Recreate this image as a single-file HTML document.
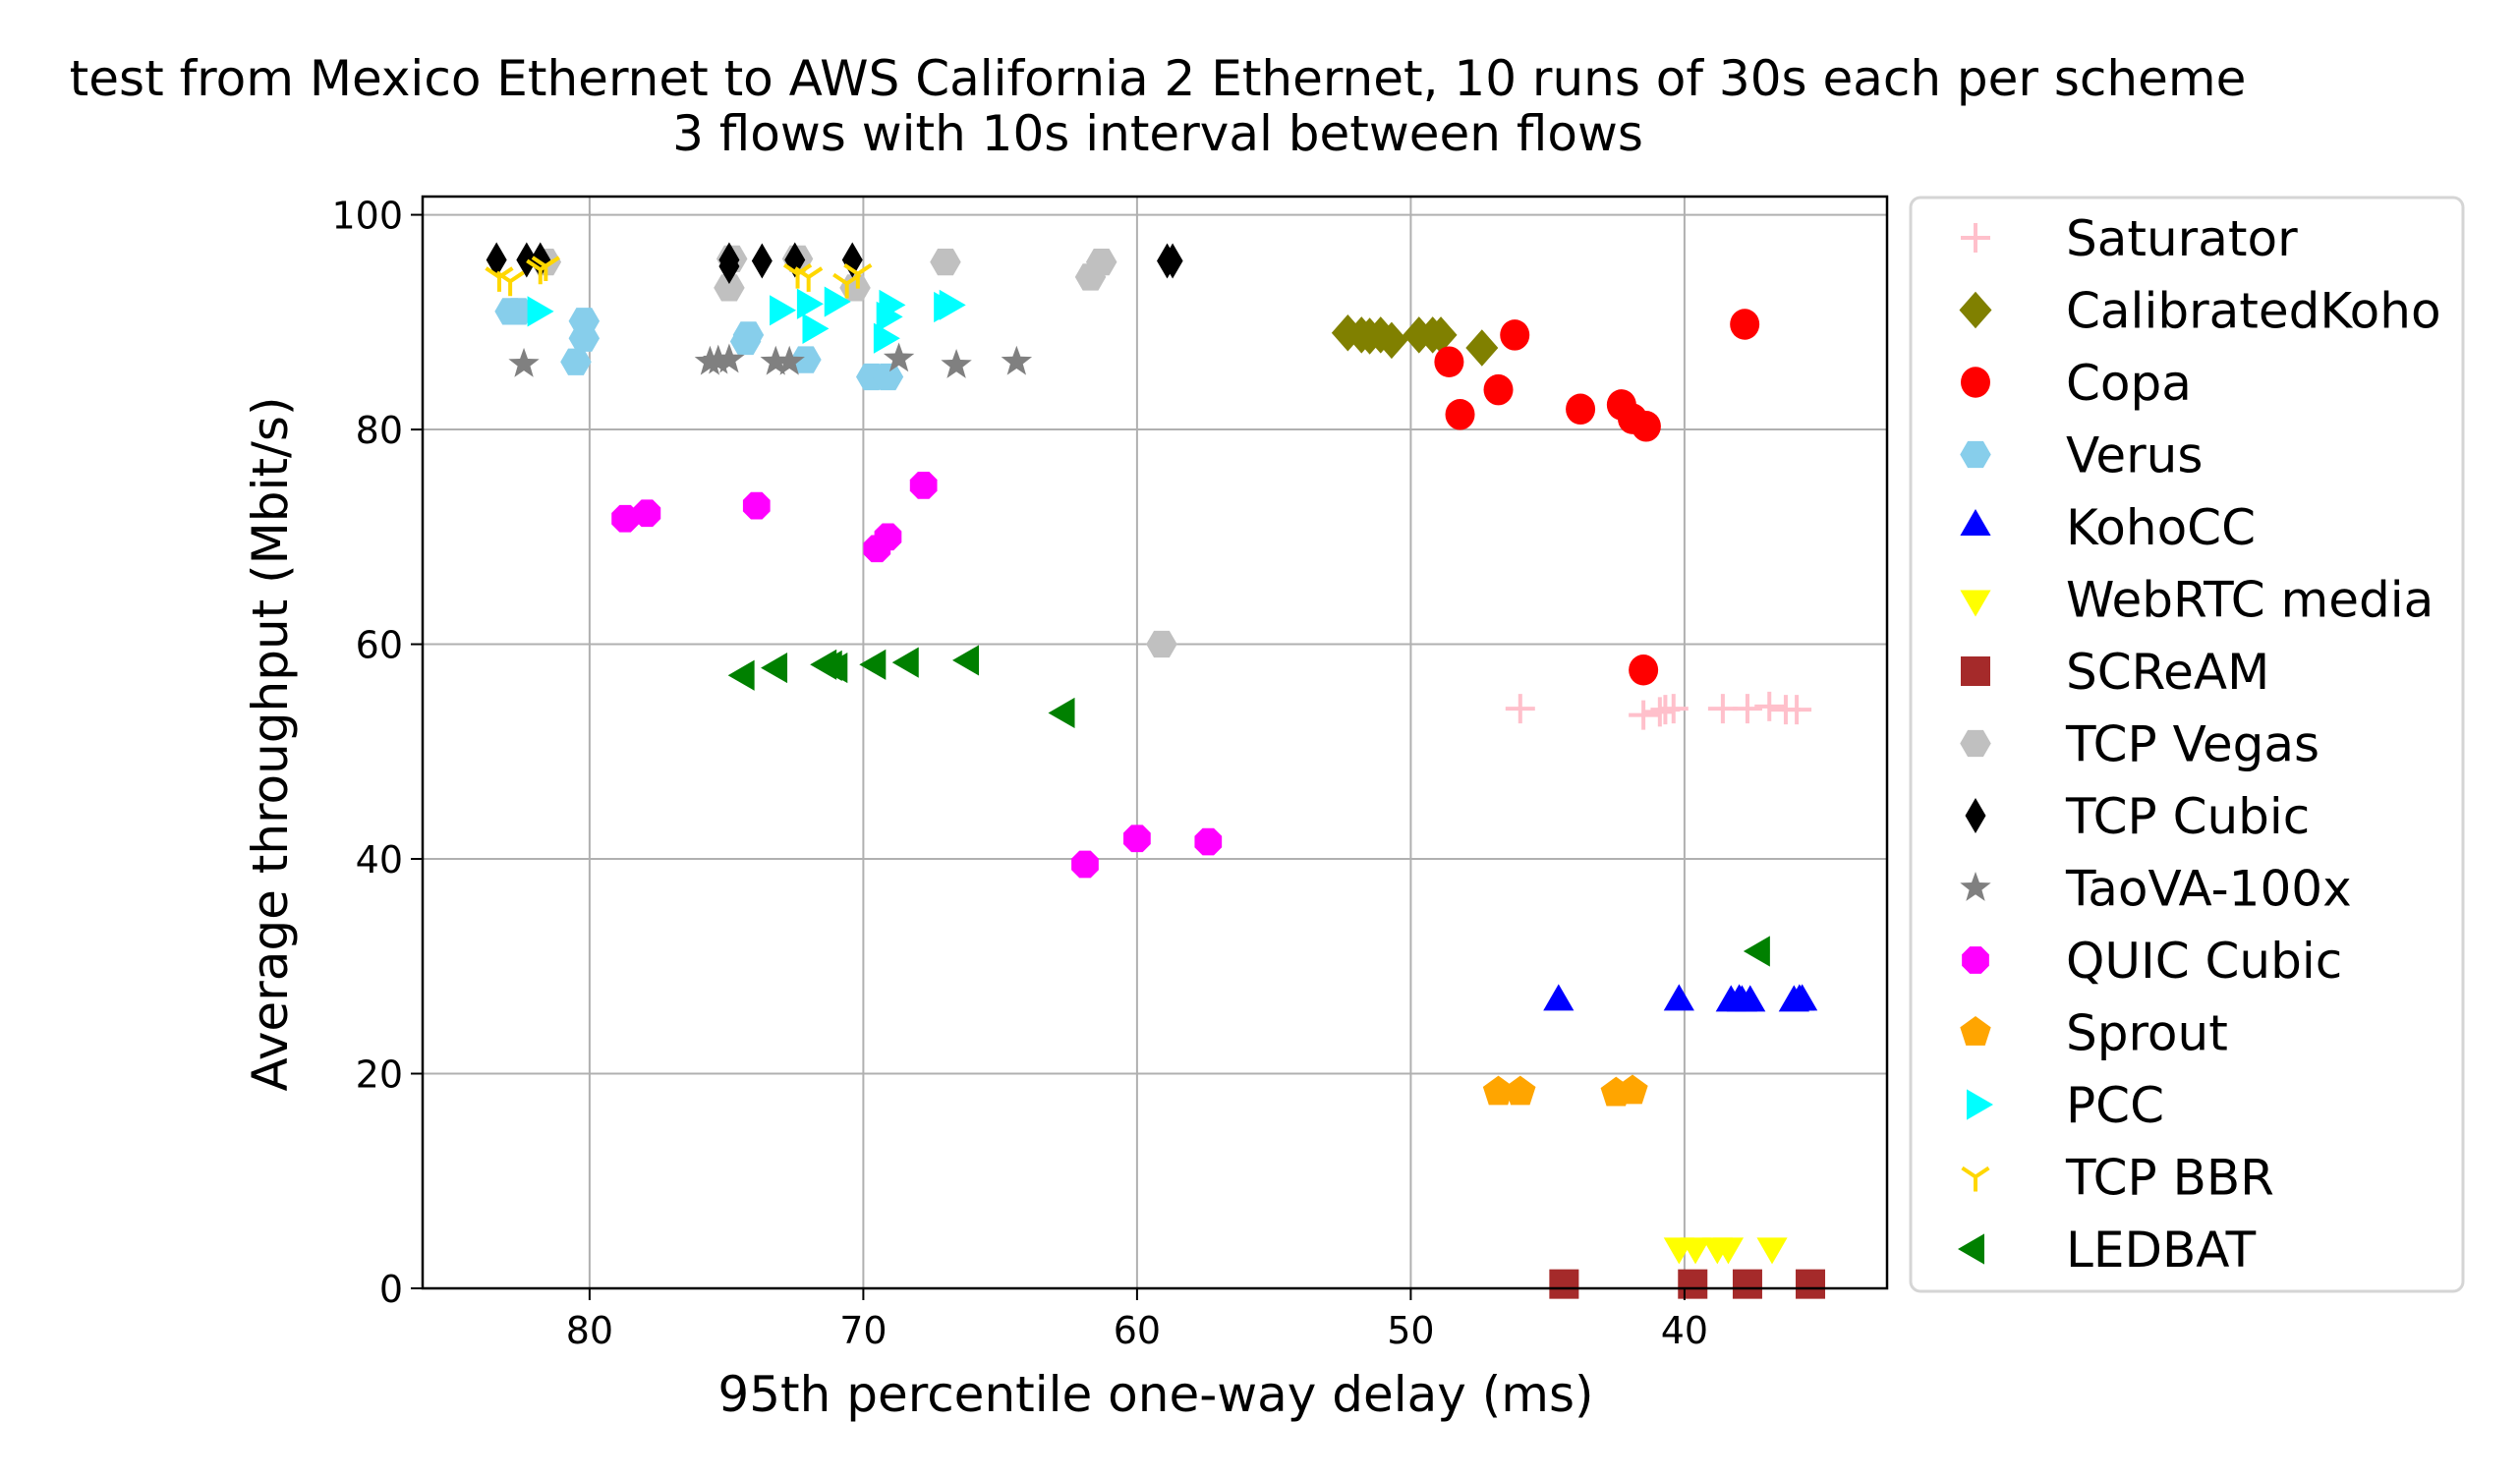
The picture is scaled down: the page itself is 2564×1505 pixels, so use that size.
<!DOCTYPE html>
<html><head><meta charset="utf-8"><style>
body{margin:0;background:#fff;}
svg{display:block;font-family:"DejaVu Sans","Liberation Sans",sans-serif;}
</style></head><body>
<svg id="chart" width="2564" height="1505" viewBox="0 0 2564 1505" xmlns="http://www.w3.org/2000/svg">
<rect width="2564" height="1505" fill="#fff"/>
<text x="1178" y="97" font-size="50" text-anchor="middle">test from Mexico Ethernet to AWS California 2 Ethernet, 10 runs of 30s each per scheme</text>
<text x="1178" y="153" font-size="50" text-anchor="middle">3 flows with 10s interval between flows</text>
<g id="grid"></g>
<g id="marks"></g>
<rect x="430" y="200" width="1490" height="1111" fill="none" stroke="#000" stroke-width="2.5"/>
<g id="ticks"></g>
<text x="1176" y="1436" font-size="50" text-anchor="middle">95th percentile one-way delay (ms)</text>
<text transform="translate(292,757) rotate(-90)" font-size="50" text-anchor="middle">Average throughput (Mbit/s)</text>
<rect x="1944" y="201" width="562" height="1113" rx="10" fill="#fff" stroke="#d5d5d5" stroke-width="3"/>
<g id="legend"></g>
</svg>
<script>
const xTicks=[80,70,60,50,40];
const yTicks=[0,20,40,60,80,100];
const names=["Saturator","CalibratedKoho","Copa","Verus","KohoCC","WebRTC media","SCReAM","TCP Vegas","TCP Cubic","TaoVA-100x","QUIC Cubic","Sprout","PCC","TCP BBR","LEDBAT"];
const colors=["#ffc0cb","#808000","#ff0000","#87ceeb","#0000ff","#ffff00","#a52a2a","#c0c0c0","#000000","#808080","#ff00ff","#ffa500","#00ffff","#ffd700","#008000"];
const shapes=["plus","D","o","h","^","v","s","h","d","*","8","p",">","tri",  "<"];
const satX=[46.0,41.5,40.9,40.7,40.4,38.6,37.7,36.9,36.3,35.9];
const satY=[54.0,53.4,53.7,53.9,54.0,54.0,54.0,54.2,53.9,53.9];
const ckX=[52.3,51.8,51.5,51.1,50.7,49.7,49.2,48.9,47.4];
const ckY=[89.0,88.8,88.7,88.8,88.3,88.8,88.8,88.8,87.6];
const copaX=[48.6,48.2,46.8,46.2,43.8,42.3,41.9,41.4,41.5,37.8];
const copaY=[86.3,81.4,83.7,88.8,81.9,82.3,81.0,80.3,57.6,89.8];
const verusX=[82.9,82.6,80.2,80.2,80.5,74.3,74.2,72.1,69.7,69.1];
const verusY=[91.0,91.0,90.1,88.5,86.3,88.2,88.8,86.5,84.9,84.9];
const kohoX=[44.6,40.2,38.3,38.0,37.9,37.6,36.0,35.8,35.7];
const kohoY=[26.7,26.7,26.6,26.7,26.6,26.6,26.6,26.7,26.7];
const webX=[40.2,39.6,38.8,38.4,36.8];
const webY=[3.9,3.9,3.9,3.9,3.9];
const screamX=[44.4,39.7,37.7,35.4];
const screamY=[0.4,0.4,0.4,0.4];
const vegasX=[81.6,74.9,74.8,72.4,70.3,67.0,61.7,61.3,59.1];
const vegasY=[95.6,93.2,95.9,95.9,93.2,95.6,94.2,95.6,60.0];
const cubicX=[83.4,82.3,81.8,74.9,74.9,73.7,72.5,70.4,58.9,58.7];
const cubicY=[95.8,95.8,95.8,95.8,95.2,95.7,95.8,95.8,95.7,95.7];
const taoX=[82.4,75.6,75.3,74.9,73.2,72.7,68.7,66.6,64.4];
const taoY=[86.1,86.3,86.4,86.5,86.3,86.3,86.6,86.0,86.3];
const quicX=[78.7,77.9,73.9,69.5,69.1,67.8,61.9,60.0,57.4];
const quicY=[71.7,72.2,72.9,68.9,70.0,74.8,39.5,41.9,41.6];
const sproutX=[46.8,46.0,42.5,41.9];
const sproutY=[18.3,18.3,18.2,18.4];
const pccX=[81.95,73.1,72.1,71.9,71.1,69.3,69.2,69.1,67.1,66.9];
const pccY=[91.0,91.1,91.7,89.4,91.9,88.5,90.5,91.6,91.4,91.6];
const bbrX=[83.3,82.9,81.8,81.6,72.4,72.0,70.6,70.2];
const bbrY=[94.2,93.8,94.9,95.2,94.5,94.2,93.6,94.5];
const ledX=[74.3,73.1,71.3,71.1,70.9,69.5,68.3,66.1,62.6,37.2];
const ledY=[57.1,57.8,58.1,58.0,57.8,58.1,58.3,58.5,53.6,31.4];
const seriesX=[satX,ckX,copaX,verusX,kohoX,webX,screamX,vegasX,cubicX,taoX,quicX,sproutX,pccX,bbrX,ledX];
const seriesY=[satY,ckY,copaY,verusY,kohoY,webY,screamY,vegasY,cubicY,taoY,quicY,sproutY,pccY,bbrY,ledY];

const NS="http://www.w3.org/2000/svg";
const L=430,R=1920,T=200,B=1311;
const X0=86.1,X1=32.6,Y0=0,Y1=101.7;
function sx(v){return L+(v-X0)/(X1-X0)*(R-L);}
function sy(v){return B-(v-Y0)/(Y1-Y0)*(B-T);}
function mk(tag,attrs,parent){const e=document.createElementNS(NS,tag);for(const k in attrs)e.setAttribute(k,attrs[k]);parent.appendChild(e);return e;}
function poly(n,r,rot){let p=[];for(let i=0;i<n;i++){const a=rot+i*2*Math.PI/n;p.push((r*Math.cos(a)).toFixed(2)+","+(r*Math.sin(a)).toFixed(2));}return p.join(" ");}
function marker(shape,color,x,y,parent){
  const g=mk("g",{transform:`translate(${x},${y})`},parent);
  const r=15;
  switch(shape){
    case "plus": mk("path",{d:`M${-r} 0H${r}M0 ${-r}V${r}`,stroke:color,"stroke-width":4,fill:"none"},g);break;
    case "D": mk("polygon",{points:`0,${-r*1.25} ${r*1.1},0 0,${r*1.25} ${-r*1.1},0`,fill:color},g);break;
    case "d": mk("polygon",{points:`0,${-r*1.2} ${r*0.7},0 0,${r*1.2} ${-r*0.7},0`,fill:color},g);break;
    case "o": mk("ellipse",{cx:0,cy:0,rx:r,ry:r*1.05,fill:color},g);break;
    case "h": mk("polygon",{points:poly(6,r*1.05,0),fill:color},g);break;
    case "8": mk("polygon",{points:poly(8,r,Math.PI/8),fill:color},g);break;
    case "p": mk("polygon",{points:poly(5,r*1.1,-Math.PI/2),fill:color},g);break;
    case "s": mk("rect",{x:-r,y:-r,width:2*r,height:2*r,fill:color},g);break;
    case "^": mk("polygon",{points:poly(3,r*1.2,-Math.PI/2),fill:color},g);break;
    case "v": mk("polygon",{points:poly(3,r*1.2,Math.PI/2),fill:color},g);break;
    case ">": mk("polygon",{points:poly(3,r*1.2,0),fill:color},g);break;
    case "<": mk("polygon",{points:poly(3,r*1.2,Math.PI),fill:color},g);break;
    case "*": {let p=[];for(let i=0;i<10;i++){const a=-Math.PI/2+i*Math.PI/5;const rr=i%2?r*0.45:r*1.1;p.push((rr*Math.cos(a)).toFixed(2)+","+(rr*Math.sin(a)).toFixed(2));}mk("polygon",{points:p.join(" "),fill:color},g);break;}
    case "tri": mk("path",{d:`M0 0V${r}M0 0L${-r*0.9} ${-r*0.6}M0 0L${r*0.9} ${-r*0.6}`,stroke:color,"stroke-width":4,fill:"none"},g);break;
  }
  return g;
}
const grid=document.getElementById("grid"),ticks=document.getElementById("ticks"),marks=document.getElementById("marks"),legend=document.getElementById("legend");
xTicks.forEach(v=>{
  const x=sx(v);
  const gl=mk("line",{x1:x,x2:x,y1:T,y2:B,stroke:"#b0b0b0","stroke-width":2},grid);
  
  
  mk("line",{x1:x,x2:x,y1:B,y2:B+12,stroke:"#000","stroke-width":2},ticks);
  const t=mk("text",{x:x,y:B+56,"font-size":38,"text-anchor":"middle"},ticks);t.textContent=v;
  
  
});
yTicks.forEach(v=>{
  const y=sy(v);
  const gl=mk("line",{x1:L,x2:R,y1:y,y2:y,stroke:"#b0b0b0","stroke-width":2},grid);
  
  
  mk("line",{x1:L-12,x2:L,y1:y,y2:y,stroke:"#000","stroke-width":2},ticks);
  const t=mk("text",{x:L-20,y:y+14,"font-size":38,"text-anchor":"end"},ticks);t.textContent=v;
  
  
});
names.forEach((n,i)=>{
  const g=mk("g",{},marks);
  
  
  seriesX[i].forEach((xv,j)=>{
    const m=marker(shapes[i],colors[i],sx(xv),sy(seriesY[i][j]),g);
    
    
  });
  const y=242+i*73.5;
  const le=mk("g",{},legend);
  
  
  marker(shapes[i],colors[i],2010,y,le);
  const t=mk("text",{x:2102,y:y+18,"font-size":50},le);t.textContent=n;
});
</script>
</body></html>
